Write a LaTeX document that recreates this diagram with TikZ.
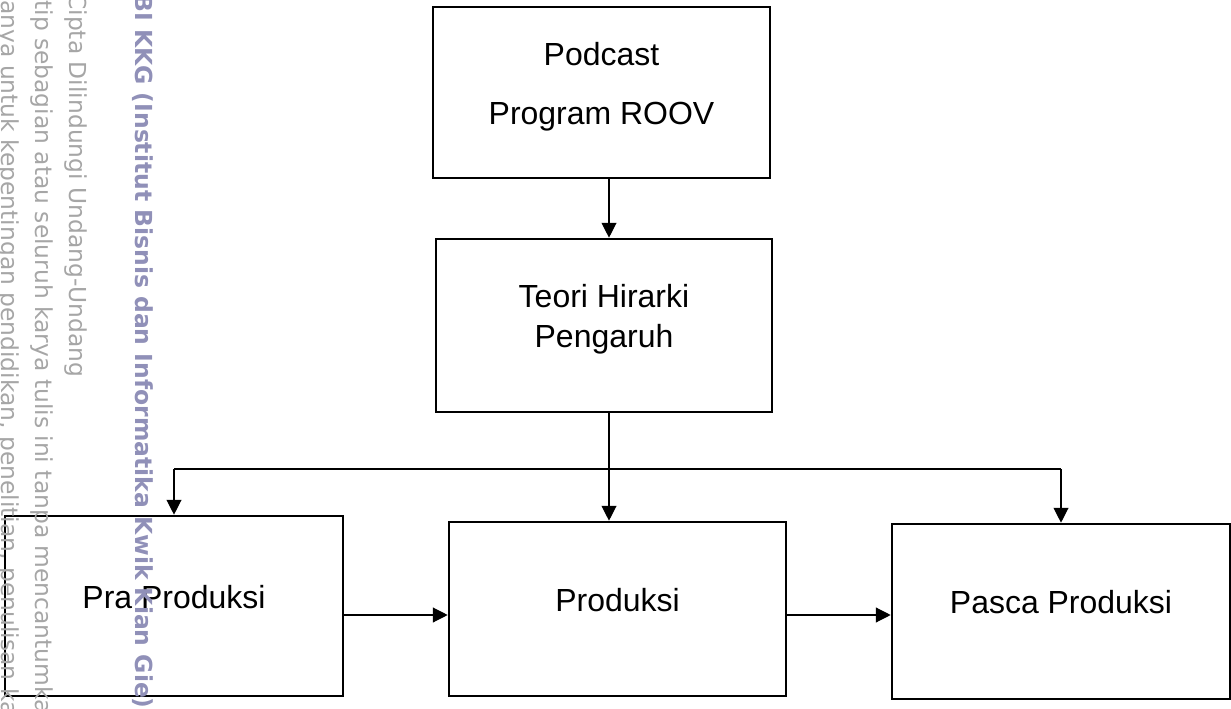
\documentclass[tikz,border=0pt]{standalone}
\usepackage{fontspec}
\setmainfont{Liberation Sans}
\newfontfamily\wmfont{DejaVu Sans}
\usepackage{xcolor}
\usetikzlibrary{calc,arrows.meta}
\definecolor{ink}{HTML}{000000}
\definecolor{wmgray}{HTML}{A6A6A6}
\definecolor{wmblue}{HTML}{9090B8}
\newcommand{\boxpad}{\rule[-10.5pt]{0pt}{10.5pt}}
\tikzset{
  stage/.style={draw=ink, line width=1.5pt, rectangle, align=center, inner sep=0pt,
    font=\fontsize{18.2}{22.8}\selectfont, execute at end node={\boxpad}},
  link/.style={draw=ink, line width=0.7pt, -{Triangle[length=8.5pt, width=8.5pt]}},
  wire/.style={draw=ink, line width=0.7pt},
  wm/.style={rotate=-90, anchor=base west, inner sep=0pt, text=wmgray,
    font=\wmfont\fontsize{13.3}{16}\selectfont},
  wmb/.style={wm, text=wmblue, font=\wmfont\bfseries\fontsize{13.35}{16}\selectfont},
}
\begin{document}
\begin{tikzpicture}[x=0.02cm, y=-0.02cm]
  \useasboundingbox (0,0) rectangle (1231,709);
  \fill[white] (0,0) rectangle (1231,709);
  % boxes
  \node[stage, minimum width=6.74cm, minimum height=3.42cm] (pod) at (601.5,92.5) {Podcast\\[11pt]Program ROOV};
  \node[stage, minimum width=6.72cm, minimum height=3.46cm] (teo) at (604,325.5) {Teori Hirarki\\Pengaruh};
  \node[stage, minimum width=6.76cm, minimum height=3.60cm] (pra) at (174,606) {Pra Produksi};
  \node[stage, minimum width=6.74cm, minimum height=3.48cm] (pro) at (617.5,609) {Produksi};
  \node[stage, minimum width=6.76cm, minimum height=3.50cm] (pas) at (1061,611.5) {Pasca Produksi};
  % connectors
  \coordinate (stem) at (609,0);
  \coordinate (split) at (0,469);
  \coordinate (row) at (0,615);
  \draw[link] (pod.south -| stem) -- (teo.north -| stem);
  \draw[link] (teo.south -| stem) -- (pro.north -| stem);
  \draw[wire] (pra.north |- split) -- (pas.north |- split);
  \draw[link] (pra.north |- split) -- (pra.north);
  \draw[link] (pas.north |- split) -- (pas.north);
  \draw[link] (pra.east |- row) -- (pro.west |- row);
  \draw[link] (pro.east |- row) -- (pas.west |- row);
  % watermark
  \node[wm] (wm1) at (2,0) {anya untuk kepentingan pendidikan, penelitian, penulisan ka};
  \node[wm] (wm2) at (35,0) {tip sebagian atau seluruh karya tulis ini tanpa mencantumka};
  \node[wm] (wm3) at (70,-7) {Cipta Dilindungi Undang-Undang};
  \node[wmb] (wm4) at (135,-6) {BI KKG (Institut Bisnis dan Informatika Kwik Kian Gie)};
\end{tikzpicture}
\end{document}
